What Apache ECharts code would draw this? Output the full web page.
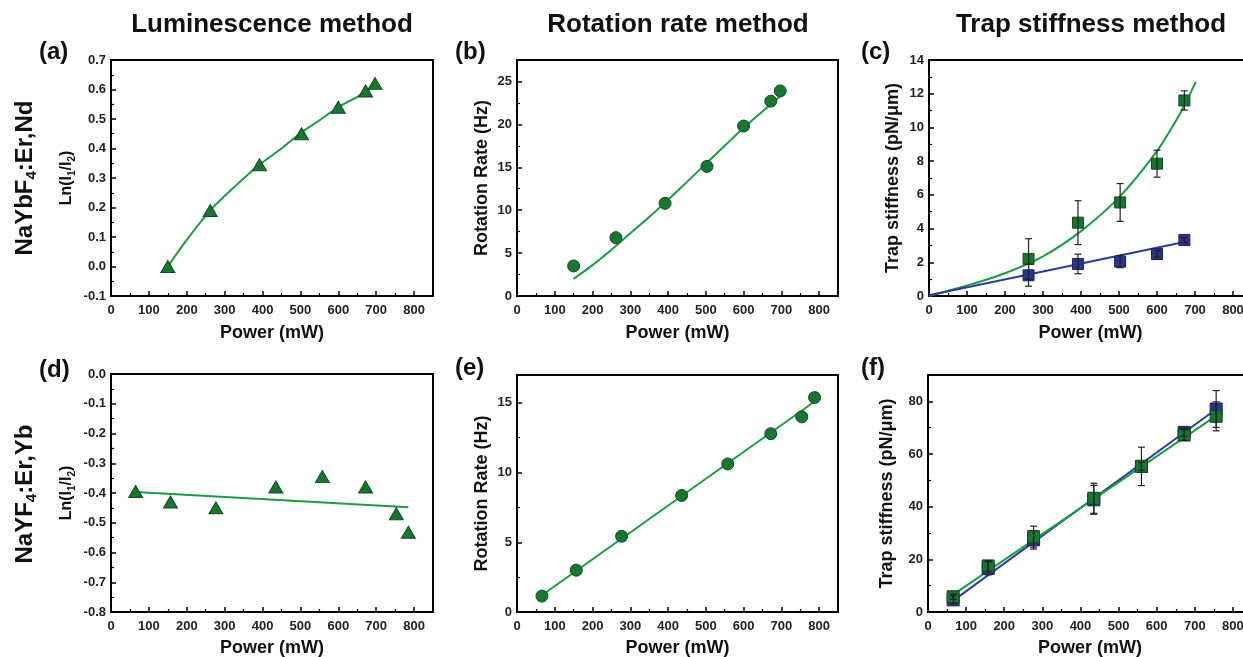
<!DOCTYPE html>
<html>
<head>
<meta charset="utf-8">
<script src="https://cdn.jsdelivr.net/npm/echarts@6/dist/echarts.min.js"></script>
<style>
html,body{margin:0;padding:0;background:#fff;}
#chart{width:1243px;height:657px;}
</style>
</head>
<body>
<div id="chart"></div>
<script>
// ---------- data ----------
// (a) NaYbF4:Er,Nd - luminescence
const aPower = [150, 262, 392, 503, 600, 672, 697];
const aLn = [0.0, 0.19, 0.345, 0.45, 0.54, 0.595, 0.62];
const aFitPower = [150, 200, 262, 330, 392, 450, 503, 550, 600, 650, 697];
const aFitLn = [0.0, 0.09, 0.19, 0.275, 0.345, 0.40, 0.455, 0.495, 0.54, 0.575, 0.615];
// (b) rotation rate
const bPower = [150, 262, 392, 503, 600, 672, 697];
const bRate = [3.5, 6.8, 10.8, 15.1, 19.8, 22.7, 23.9];
const bFitPower = [150, 200, 250, 300, 350, 400, 450, 500, 550, 600, 650, 697];
const bFitRate = [2.0, 3.6, 5.4, 7.3, 9.2, 11.2, 13.3, 15.4, 17.5, 19.6, 21.5, 23.3];
// (c) trap stiffness
const cPower = [262, 392, 503, 600, 672];
const cGreen = [2.2, 4.35, 5.55, 7.85, 11.6];
const cGreenErr = [1.2, 1.3, 1.12, 0.8, 0.57];
const cBlue = [1.23, 1.9, 2.04, 2.49, 3.32];
const cBlueErr = [0.65, 0.58, 0.36, 0.2, 0.15];
const cGreenFitPower = [0, 100, 200, 300, 400, 500, 600, 650, 672, 702];
const cGreenFit = [0, 0.62, 1.35, 2.35, 3.85, 5.85, 8.6, 10.4, 11.3, 12.7];
const cBlueFitPower = [0, 672];
const cBlueFit = [0.05, 3.2];
// (d) NaYF4:Er,Yb - luminescence
const dPower = [65, 157, 277, 435, 558, 672, 753, 785];
const dLn = [-0.395, -0.43, -0.45, -0.38, -0.345, -0.38, -0.47, -0.532];
const dFitPower = [65, 785];
const dFitLn = [-0.397, -0.448];
// (e) rotation rate
const ePower = [66, 157, 277, 436, 558, 672, 754, 788];
const eRate = [1.14, 3.0, 5.43, 8.36, 10.62, 12.79, 14.0, 15.38];
const eFitPower = [66, 788];
const eFitRate = [1.2, 15.1];
// (f) trap stiffness
const fPower = [66, 158, 277, 435, 560, 672, 756];
const fBlue = [4.6, 16.6, 27.4, 42.6, 55.3, 68.2, 77.1];
const fBlueErr = [1.5, 2.5, 3.5, 5.5, 1.5, 1.5, 7.0];
const fGreen = [5.8, 17.5, 28.6, 43.2, 55.3, 67.2, 74.3];
const fGreenErr = [1.0, 2.0, 4.0, 5.7, 7.3, 2.0, 5.5];
const fFitPower = [66, 756];
const fBlueFit = [4.3, 77.0];
const fGreenFit = [6.6, 74.5];

// ---------- styling ----------
const FONT = "'Liberation Sans', Arial, sans-serif";
const G_FILL = '#1a7433', G_EDGE = '#0c4d1e', G_LINE = '#1f9a44';
const B_FILL = '#2b3487', B_EDGE = '#1a2163', B_LINE = '#2d3c9c';

function zip(xs, ys) { return xs.map((x, i) => [x, ys[i]]); }
function zip3(xs, ys, es) { return xs.map((x, i) => [x, ys[i], es[i]]); }

const grids = [
  [111, 60, 322, 236], [517, 60, 321, 236], [929, 60, 323, 236],
  [111, 374, 322, 238], [517, 375, 321, 237], [928, 375, 324, 237]
].map(g => ({left: g[0], top: g[1], width: g[2], height: g[3], show: true,
  outerBoundsMode: 'none', containLabel: false,
  borderColor: '#000', borderWidth: 2, backgroundColor: 'transparent'}));

const tickStyle = {
  axisTick: {show: true, inside: true, length: 5, lineStyle: {color: '#000', width: 1.5}},
  minorTick: {show: true, splitNumber: 2, length: 3, lineStyle: {color: '#000', width: 1.2}},
  splitLine: {show: false}, minorSplitLine: {show: false}
};
const labelFont = {fontFamily: FONT, fontSize: 13, fontWeight: 'bold', color: '#222'};

function xAx(i, gap) {
  return Object.assign({
    type: 'value', gridIndex: i, min: 0, max: 850, interval: 100,
    name: 'Power (mW)', nameLocation: 'middle', nameGap: gap,
    nameTextStyle: {fontFamily: FONT, fontSize: 18, fontWeight: 'bold', color: '#111'},
    axisLine: {show: true, onZero: false, lineStyle: {color: '#000', width: 2}},
    axisLabel: Object.assign({showMaxLabel: false, margin: 8}, labelFont)
  }, tickStyle);
}
function yAx(i, min, max, interval, name, gap, nameStyle, fmt, showMax) {
  return Object.assign({
    type: 'value', gridIndex: i, min: min, max: max, interval: interval,
    name: name, nameLocation: 'middle', nameGap: gap,
    nameTextStyle: nameStyle,
    axisLine: {show: true, onZero: false, lineStyle: {color: '#000', width: 2}},
    axisLabel: Object.assign({showMaxLabel: showMax, margin: 5, formatter: fmt}, labelFont)
  }, tickStyle);
}
const bigName = {fontFamily: FONT, fontSize: 18, fontWeight: 'bold', color: '#111'};
const lnName = {fontFamily: FONT, fontSize: 16, fontWeight: 'bold', color: '#111', lineHeight: 20,
  rich: {s: {fontFamily: FONT, fontSize: 10, fontWeight: 'bold', color: '#111', verticalAlign: 'bottom', lineHeight: 10}}};
const fmt1 = v => v.toFixed(1);
const fmt0 = v => String(Math.round(v));

function scatter(i, data, symbol, size, fill, edge) {
  return {type: 'scatter', xAxisIndex: i, yAxisIndex: i, data: data, symbol: symbol, symbolSize: size,
    itemStyle: {color: fill, borderColor: edge, borderWidth: 1, opacity: 1}, z: 4, silent: true};
}
function fit(i, data, color, smooth) {
  return {type: 'line', xAxisIndex: i, yAxisIndex: i, data: data, smooth: smooth, symbol: 'none',
    showSymbol: false, lineStyle: {color: color, width: 2}, z: 3, silent: true};
}
function errbars(i, data) {
  return {type: 'custom', xAxisIndex: i, yAxisIndex: i, data: data, z: 5, silent: true,
    encode: {x: 0, y: 1},
    renderItem: function (params, api) {
      const x = api.value(0), y = api.value(1), e = api.value(2);
      const t = api.coord([x, y + e]), b = api.coord([x, y - e]);
      const w = 3.5, st = {stroke: '#222', lineWidth: 1.2};
      return {type: 'group', children: [
        {type: 'line', shape: {x1: t[0], y1: t[1], x2: b[0], y2: b[1]}, style: st},
        {type: 'line', shape: {x1: t[0] - w, y1: t[1], x2: t[0] + w, y2: t[1]}, style: st},
        {type: 'line', shape: {x1: b[0] - w, y1: b[1], x2: b[0] + w, y2: b[1]}, style: st}
      ]};
    }};
}

const titleStyle = {font: 'bold 26px ' + FONT, fill: '#111', textAlign: 'center', textVerticalAlign: 'middle'};
function txt(x, y, text, font, align) {
  return {type: 'text', x: x, y: y, silent: true,
    style: {text: text, font: font, fill: '#111', textAlign: align || 'left', textVerticalAlign: 'middle'}};
}
function rowLabel(x, y, text) {
  return {type: 'text', x: x, y: y, rotation: Math.PI / 2, silent: true,
    style: {text: text, x: 0, y: 0, textAlign: 'center', textVerticalAlign: 'middle',
      fontFamily: FONT, fontSize: 24, fontWeight: 'bold', fill: '#111', lineHeight: 28,
      rich: {s: {fontFamily: FONT, fontSize: 15, fontWeight: 'bold', fill: '#111', verticalAlign: 'bottom', lineHeight: 15}}}};
}

const option = {
  animation: false,
  backgroundColor: '#ffffff',
  grid: grids,
  xAxis: [xAx(0, 28), xAx(1, 28), xAx(2, 28), xAx(3, 27), xAx(4, 27), xAx(5, 27)],
  yAxis: [
    yAx(0, -0.1, 0.7, 0.1, 'Ln(I{s|1}/I{s|2})', 34, lnName, fmt1, true),
    yAx(1, 0, 27.5, 5, 'Rotation Rate (Hz)', 26, bigName, fmt0, false),
    yAx(2, 0, 14, 2, 'Trap stiffness (pN/\u03bcm)', 27, bigName, fmt0, true),
    yAx(3, -0.8, 0, 0.1, 'Ln(I{s|1}/I{s|2})', 34, lnName, fmt1, true),
    yAx(4, 0, 17, 5, 'Rotation Rate (Hz)', 26, bigName, fmt0, false),
    yAx(5, 0, 90, 20, 'Trap stiffness (pN/\u03bcm)', 32, bigName, fmt0, false)
  ],
  series: [
    fit(0, zip(aFitPower, aFitLn), G_LINE, 0.3),
    scatter(0, zip(aPower, aLn), 'triangle', [14, 12], G_FILL, G_EDGE),
    fit(1, zip(bFitPower, bFitRate), G_LINE, 0.3),
    scatter(1, zip(bPower, bRate), 'circle', 12, G_FILL, G_EDGE),
    fit(2, zip(cGreenFitPower, cGreenFit), G_LINE, 0.3),
    fit(2, zip(cBlueFitPower, cBlueFit), B_LINE, false),
    scatter(2, zip(cPower, cBlue), 'rect', 11, B_FILL, B_EDGE),
    scatter(2, zip(cPower, cGreen), 'rect', 11, G_FILL, G_EDGE),
    errbars(2, zip3(cPower, cBlue, cBlueErr)),
    errbars(2, zip3(cPower, cGreen, cGreenErr)),
    fit(3, zip(dFitPower, dFitLn), G_LINE, false),
    scatter(3, zip(dPower, dLn), 'triangle', [14, 12], G_FILL, G_EDGE),
    fit(4, zip(eFitPower, eFitRate), G_LINE, false),
    scatter(4, zip(ePower, eRate), 'circle', 12, G_FILL, G_EDGE),
    scatter(5, zip(fPower, fBlue), 'rect', 12, B_FILL, B_EDGE),
    scatter(5, zip(fPower, fGreen), 'rect', 12, G_FILL, G_EDGE),
    fit(5, zip(fFitPower, fBlueFit), B_LINE, false),
    fit(5, zip(fFitPower, fGreenFit), G_LINE, false),
    errbars(5, zip3(fPower, fBlue, fBlueErr)),
    errbars(5, zip3(fPower, fGreen, fGreenErr))
  ],
  graphic: [
    {type: 'text', x: 272, y: 25, silent: true, style: Object.assign({text: 'Luminescence method'}, titleStyle)},
    {type: 'text', x: 678, y: 25, silent: true, style: Object.assign({text: 'Rotation rate method'}, titleStyle)},
    {type: 'text', x: 1091, y: 25, silent: true, style: Object.assign({text: 'Trap stiffness method'}, titleStyle)},
    txt(39, 52, '(a)', 'bold 24px ' + FONT),
    txt(455, 52, '(b)', 'bold 24px ' + FONT),
    txt(861, 52, '(c)', 'bold 24px ' + FONT),
    txt(39, 370, '(d)', 'bold 24px ' + FONT),
    txt(455, 368, '(e)', 'bold 24px ' + FONT),
    txt(861, 368, '(f)', 'bold 24px ' + FONT),
    rowLabel(25, 178, 'NaYbF{s|4}:Er,Nd'),
    rowLabel(25, 494, 'NaYF{s|4}:Er,Yb')
  ]
};

const chart = echarts.init(document.getElementById('chart'), null, {renderer: 'canvas'});
chart.setOption(option);
</script>
</body>
</html>
